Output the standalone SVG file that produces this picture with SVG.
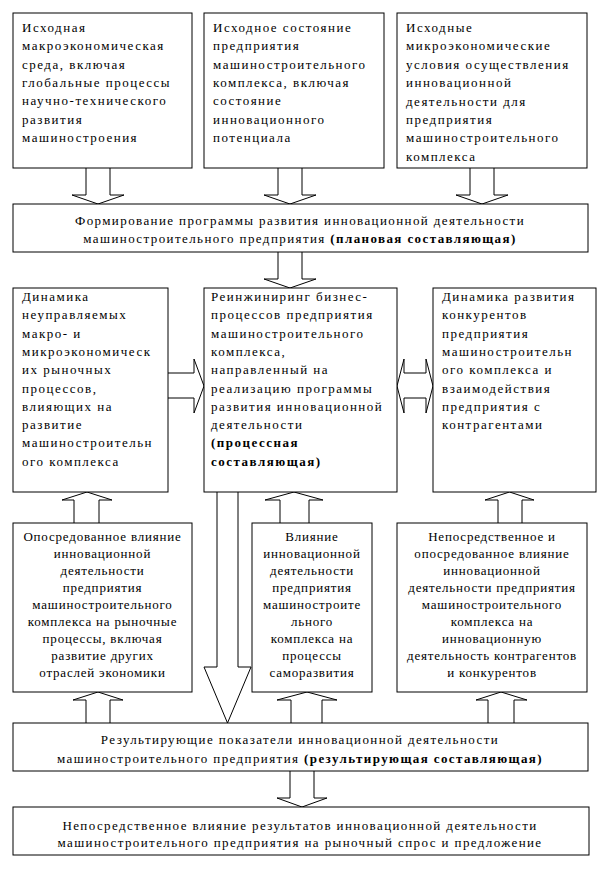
<svg xmlns="http://www.w3.org/2000/svg" width="601" height="874" viewBox="0 0 601 874">
<style>
.box{fill:#fff;stroke:#000;stroke-width:1}
.arr{fill:#fff;stroke:#000;stroke-width:1;stroke-linejoin:miter}
text{font-family:"Liberation Serif","Times New Roman",serif;font-size:13px;fill:#000}
.l{letter-spacing:1.5px}
.c{letter-spacing:0.8px;text-anchor:middle}
.w{letter-spacing:1.4px;text-anchor:middle}
.b{font-weight:bold}
</style>
<rect width="601" height="874" fill="#fff"/>
<g id="connectors">
<path class="arr" d="M86,168V195H72L98,204L124,195H110V168"/>
<path class="arr" d="M278,168V195H264L290,204L316,195H302V168"/>
<path class="arr" d="M470,168V195H456L482,204L508,195H494V168"/>
<path class="arr" d="M278,252V279H264L290,288L316,279H302V252"/>
<path class="arr" d="M168,373H194V359L204,386L194,413V398H168"/>
<path class="arr" d="M397,386L404,359V373H426V359L433,386L426,413V398H404V413Z"/>
<path class="arr" d="M74,523V500H62L87,492L112,500H99V523"/>
<path class="arr" d="M280,523V500H265L294,492L323,500H309V523"/>
<path class="arr" d="M498,523V500H485L509.5,492L534,500H522V523"/>
<path class="arr" d="M217,492V667H204L227.5,723L251,667H238V492"/>
<path class="arr" d="M86,723V700H73L98,692L123,700H110V723"/>
<path class="arr" d="M291,723V700H277L307,692L337,700H322V723"/>
<path class="arr" d="M488,723V700H476L501,692L527,700H514V723"/>
<path class="arr" d="M290,771V798H277L302,807L327,798H314V771"/>
</g>
<g id="top1">
<rect class="box" x="13" y="13" width="179" height="155"/>
<text class="l" x="22" y="32">Исходная</text>
<text class="l" x="22" y="50.3">макроэкономическая</text>
<text class="l" x="22" y="68.6">среда, включая</text>
<text class="l" x="22" y="86.9">глобальные процессы</text>
<text class="l" x="22" y="105.2">научно-технического</text>
<text class="l" x="22" y="123.5">развития</text>
<text class="l" x="22" y="141.8">машиностроения</text>
</g>
<g id="top2">
<rect class="box" x="204" y="13" width="180" height="155"/>
<text class="l" x="213" y="32">Исходное состояние</text>
<text class="l" x="213" y="50.3">предприятия</text>
<text class="l" x="213" y="68.6">машиностроительного</text>
<text class="l" x="213" y="86.9">комплекса, включая</text>
<text class="l" x="213" y="105.2">состояние</text>
<text class="l" x="213" y="123.5">инновационного</text>
<text class="l" x="213" y="141.8">потенциала</text>
</g>
<g id="top3">
<rect class="box" x="397" y="13" width="190" height="155"/>
<text class="l" x="406" y="32">Исходные</text>
<text class="l" x="406" y="50.4">микроэкономические</text>
<text class="l" x="406" y="68.8">условия осуществления</text>
<text class="l" x="406" y="87.2">инновационной</text>
<text class="l" x="406" y="105.6">деятельности для</text>
<text class="l" x="406" y="124">предприятия</text>
<text class="l" x="406" y="142.4">машиностроительного</text>
<text class="l" x="406" y="160.8">комплекса</text>
</g>
<g id="plan">
<rect class="box" x="13" y="204" width="575" height="48"/>
<text class="w" x="300" y="224.5">Формирование программы развития инновационной деятельности</text>
<text class="w" x="300" y="242.5">машиностроительного предприятия <tspan class="b">(плановая составляющая)</tspan></text>
</g>
<g id="midL">
<rect class="box" x="13" y="288" width="155" height="204"/>
<text class="l" x="22" y="301">Динамика</text>
<text class="l" x="22" y="319.3">неуправляемых</text>
<text class="l" x="22" y="337.6">макро- и</text>
<text class="l" x="22" y="355.9">микроэкономическ</text>
<text class="l" x="22" y="374.2">их рыночных</text>
<text class="l" x="22" y="392.5">процессов,</text>
<text class="l" x="22" y="410.8">влияющих на</text>
<text class="l" x="22" y="429.1">развитие</text>
<text class="l" x="22" y="447.4">машиностроительн</text>
<text class="l" x="22" y="465.7">ого комплекса</text>
</g>
<g id="midC">
<rect class="box" x="204" y="288" width="193" height="204"/>
<text class="l" x="211" y="301">Реинжиниринг бизнес-</text>
<text class="l" x="211" y="319.3">процессов предприятия</text>
<text class="l" x="211" y="337.6">машиностроительного</text>
<text class="l" x="211" y="355.9">комплекса,</text>
<text class="l" x="211" y="374.2">направленный на</text>
<text class="l" x="211" y="392.5">реализацию программы</text>
<text class="l" x="211" y="410.8">развития инновационной</text>
<text class="l" x="211" y="429.1">деятельности</text>
<text class="l b" x="211" y="447.4">(процессная</text>
<text class="l b" x="211" y="465.7">составляющая)</text>
</g>
<g id="midR">
<rect class="box" x="433" y="288" width="163" height="204"/>
<text class="l" x="442" y="301">Динамика развития</text>
<text class="l" x="442" y="319.3">конкурентов</text>
<text class="l" x="442" y="337.6">предприятия</text>
<text class="l" x="442" y="355.9">машиностроительн</text>
<text class="l" x="442" y="374.2">ого комплекса и</text>
<text class="l" x="442" y="392.5">взаимодействия</text>
<text class="l" x="442" y="410.8">предприятия с</text>
<text class="l" x="442" y="429.1">контрагентами</text>
</g>
<g id="botL">
<rect class="box" x="13" y="523" width="179" height="169"/>
<text class="c" x="102.5" y="541">Опосредованное влияние</text>
<text class="c" x="102.5" y="558">инновационной</text>
<text class="c" x="102.5" y="575">деятельности</text>
<text class="c" x="102.5" y="592">предприятия</text>
<text class="c" x="102.5" y="609">машиностроительного</text>
<text class="c" x="102.5" y="626">комплекса на  рыночные</text>
<text class="c" x="102.5" y="643">процессы, включая</text>
<text class="c" x="102.5" y="660">развитие других</text>
<text class="c" x="102.5" y="677">отраслей экономики</text>
</g>
<g id="botC">
<rect class="box" x="252" y="523" width="120" height="169"/>
<text class="c" x="312" y="541">Влияние</text>
<text class="c" x="312" y="558">инновационной</text>
<text class="c" x="312" y="575">деятельности</text>
<text class="c" x="312" y="592">предприятия</text>
<text class="c" x="312" y="609">машиностроите</text>
<text class="c" x="312" y="626">льного</text>
<text class="c" x="312" y="643">комплекса на</text>
<text class="c" x="312" y="660">процессы</text>
<text class="c" x="312" y="677">саморазвития</text>
</g>
<g id="botR">
<rect class="box" x="397" y="523" width="190" height="169"/>
<text class="c" x="492" y="541">Непосредственное  и</text>
<text class="c" x="492" y="558">опосредованное влияние</text>
<text class="c" x="492" y="575">инновационной</text>
<text class="c" x="492" y="592">деятельности предприятия</text>
<text class="c" x="492" y="609">машиностроительного</text>
<text class="c" x="492" y="626">комплекса на</text>
<text class="c" x="492" y="643">инновационную</text>
<text class="c" x="492" y="660">деятельность контрагентов</text>
<text class="c" x="492" y="677">и конкурентов</text>
</g>
<g id="result">
<rect class="box" x="13" y="723" width="575" height="48"/>
<text class="w" x="300" y="743.5">Результирующие показатели инновационной деятельности</text>
<text class="w" x="300" y="762.5">машиностроительного предприятия <tspan class="b">(результирующая составляющая)</tspan></text>
</g>
<g id="final">
<rect class="box" x="13" y="807" width="576" height="48"/>
<text class="w" x="300" y="829.5">Непосредственное влияние результатов инновационной деятельности</text>
<text class="w" x="300" y="847">машиностроительного предприятия на рыночный спрос и предложение</text>
</g>
</svg>
